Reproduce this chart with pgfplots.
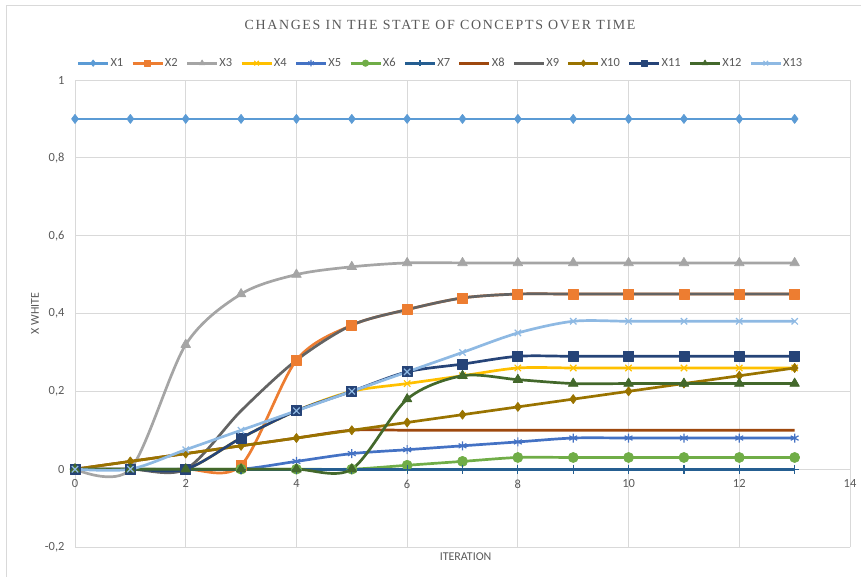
\documentclass[border=0pt]{standalone}
\usepackage{pgfplots}
\pgfplotsset{compat=1.18}
\usepackage{fontspec}
\setmainfont{Carlito}
\newfontfamily\titlefont[LetterSpace=12]{Liberation Serif}
\definecolor{c1}{HTML}{5B9BD5}
\definecolor{c2}{HTML}{ED7D31}
\definecolor{c3}{HTML}{A5A5A5}
\definecolor{c4}{HTML}{FFC000}
\definecolor{c5}{HTML}{4472C4}
\definecolor{c6}{HTML}{70AD47}
\definecolor{c7}{HTML}{255E91}
\definecolor{c8}{HTML}{9E480E}
\definecolor{c9}{HTML}{636363}
\definecolor{c10}{HTML}{997300}
\definecolor{c11}{HTML}{264478}
\definecolor{c12}{HTML}{43682B}
\definecolor{c13}{HTML}{8EB9E3}
\definecolor{gridc}{HTML}{D9D9D9}
\definecolor{tickc}{HTML}{595959}
\begin{document}
\begin{tikzpicture}
\begin{axis}[
  at={(0bp,0bp)}, anchor=south west,
  scale only axis, width=775bp, height=467bp,
  xmin=0, xmax=14, ymin=-0.2, ymax=1,
  xtick={0,2,4,6,8,10,12,14},
  xticklabels={0,2,4,6,8,10,12,14},
  ytick={-0.2,0,0.2,0.4,0.6,0.8,1},
  yticklabels={{-0,2},{0},{0,2},{0,4},{0,6},{0,8},{1}},
  axis x line=middle, axis y line=left,
  axis line style={draw=gridc, line width=0.75bp, -},
  hide obscured x ticks=false, hide obscured y ticks=false,
  major tick length=0pt,
  grid=major, major grid style={draw=gridc, line width=0.75bp},
  tick label style={font=\fontsize{12.5}{14}\selectfont, text=tickc},
  xticklabel style={anchor=north, yshift=-7bp},
  yticklabel style={anchor=east, xshift=-7bp},
  xlabel={ITERATION}, ylabel={X WHITE},
  label style={font=\fontsize{12}{14}\selectfont, text=tickc},
  xlabel style={at={(axis description cs:0.504,-0.0214)}, anchor=center},
  ylabel style={at={(axis description cs:-0.0516,0.5)}, anchor=center, rotate=0},
  title={\titlefont\fontsize{14}{16}\selectfont CHANGES IN THE STATE OF CONCEPTS OVER TIME},
  title style={at={(axis description cs:0.471,1.118)}, anchor=center, yshift=-6pt, text=tickc},
  legend columns=13,
  legend style={draw=none, fill=none, at={(axis description cs:0.471,1.036)}, anchor=center,
    font=\fontsize{12.5}{14}\selectfont, text=tickc, nodes={inner sep=1bp},
    /tikz/every even column/.append style={column sep=7bp}},
  legend image code/.code={\draw[mark repeat=2,mark phase=2,#1,mark size=3.2bp] plot coordinates {(0bp,0bp)(15bp,0bp)(30bp,0bp)};},
  every axis plot/.append style={line width=2.7bp, smooth, tension=0.5, line join=round},
]
\addplot[c1, mark=diamond*, mark size=4.5bp, mark options={line width=0.75bp}] coordinates {(0,0.9)(1,0.9)(2,0.9)(3,0.9)(4,0.9)(5,0.9)(6,0.9)(7,0.9)(8,0.9)(9,0.9)(10,0.9)(11,0.9)(12,0.9)(13,0.9)};
\addlegendentry{X1}
\addplot[c2, mark=square*, mark size=5bp, mark options={line width=0.75bp}] coordinates {(0,0)(1,0)(2,0)(3,0.01)(4,0.28)(5,0.37)(6,0.41)(7,0.44)(8,0.45)(9,0.45)(10,0.45)(11,0.45)(12,0.45)(13,0.45)};
\addlegendentry{X2}
\addplot[c3, mark=triangle*, mark size=5.5bp, mark options={line width=0.75bp}] coordinates {(0,0)(1,0)(2,0.32)(3,0.45)(4,0.50)(5,0.52)(6,0.53)(7,0.53)(8,0.53)(9,0.53)(10,0.53)(11,0.53)(12,0.53)(13,0.53)};
\addlegendentry{X3}
\addplot[c4, mark=x, mark size=4.5bp, mark options={line width=1.2bp}] coordinates {(0,0)(1,0)(2,0)(3,0.08)(4,0.15)(5,0.20)(6,0.22)(7,0.24)(8,0.26)(9,0.26)(10,0.26)(11,0.26)(12,0.26)(13,0.26)};
\addlegendentry{X4}
\addplot[c5, mark=asterisk, mark size=4.5bp, mark options={line width=1.2bp}] coordinates {(0,0)(1,0)(2,0)(3,0)(4,0.02)(5,0.04)(6,0.05)(7,0.06)(8,0.07)(9,0.08)(10,0.08)(11,0.08)(12,0.08)(13,0.08)};
\addlegendentry{X5}
\addplot[c6, mark=*, mark size=5bp, mark options={line width=0.75bp}] coordinates {(0,0)(1,0)(2,0)(3,0)(4,0)(5,0)(6,0.01)(7,0.02)(8,0.03)(9,0.03)(10,0.03)(11,0.03)(12,0.03)(13,0.03)};
\addlegendentry{X6}
\addplot[c7, mark=+, mark size=4.5bp, mark options={line width=1.2bp}] coordinates {(0,0)(1,0)(2,0)(3,0)(4,0)(5,0)(6,0)(7,0)(8,0)(9,0)(10,0)(11,0)(12,0)(13,0)};
\addlegendentry{X7}
\addplot[c8, no markers] coordinates {(0,0)(1,0.02)(2,0.04)(3,0.06)(4,0.08)(5,0.10)(6,0.10)(7,0.10)(8,0.10)(9,0.10)(10,0.10)(11,0.10)(12,0.10)(13,0.10)};
\addlegendentry{X8}
\addplot[c9, no markers] coordinates {(0,0)(1,0)(2,0)(3,0.15)(4,0.28)(5,0.37)(6,0.41)(7,0.44)(8,0.45)(9,0.45)(10,0.45)(11,0.45)(12,0.45)(13,0.45)};
\addlegendentry{X9}
\addplot[c10, mark=diamond*, mark size=4.5bp, mark options={line width=0.75bp}] coordinates {(0,0)(1,0.02)(2,0.04)(3,0.06)(4,0.08)(5,0.10)(6,0.12)(7,0.14)(8,0.16)(9,0.18)(10,0.20)(11,0.22)(12,0.24)(13,0.26)};
\addlegendentry{X10}
\addplot[c11, mark=square*, mark size=5bp, mark options={line width=0.75bp}] coordinates {(0,0)(1,0)(2,0)(3,0.08)(4,0.15)(5,0.20)(6,0.25)(7,0.27)(8,0.29)(9,0.29)(10,0.29)(11,0.29)(12,0.29)(13,0.29)};
\addlegendentry{X11}
\addplot[c12, mark=triangle*, mark size=5.5bp, mark options={line width=0.75bp}] coordinates {(0,0)(1,0)(2,0)(3,0)(4,0)(5,0)(6,0.18)(7,0.24)(8,0.23)(9,0.22)(10,0.22)(11,0.22)(12,0.22)(13,0.22)};
\addlegendentry{X12}
\addplot[c13, mark=x, mark size=4.5bp, mark options={line width=1.2bp}] coordinates {(0,0)(1,0)(2,0.05)(3,0.10)(4,0.15)(5,0.20)(6,0.25)(7,0.30)(8,0.35)(9,0.38)(10,0.38)(11,0.38)(12,0.38)(13,0.38)};
\addlegendentry{X13}
\end{axis}
\draw[gridc, line width=1bp] (-68bp,-30bp) -- (-68bp,541bp) -- (786bp,541bp);
\pgfresetboundingbox
\useasboundingbox (-75bp,-30bp) rectangle (786bp,547bp);
\end{tikzpicture}
\end{document}
